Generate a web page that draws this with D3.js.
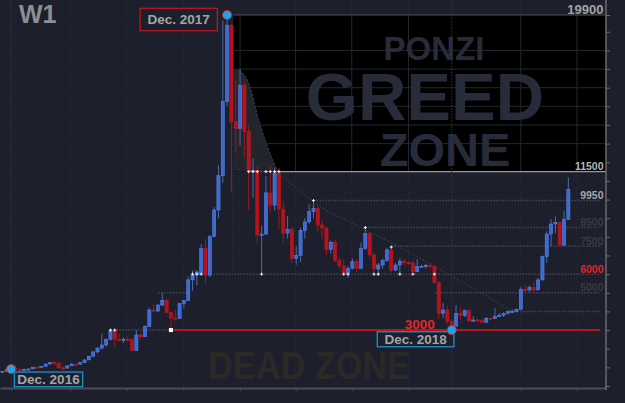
<!DOCTYPE html>
<html lang="en">
<head>
<meta charset="UTF-8" />
<title>W1 - Ponzi Greed Zone</title>
<script src="https://d3js.org/d3.v7.min.js"></script>
<style>
  html, body { margin: 0; padding: 0; background: #1d202c; }
  svg { display: block; }
  text { font-family: "Liberation Sans", Arial, sans-serif; }
</style>
</head>
<body>
<svg id="chart" width="625" height="403"></svg>
<script>
// weekly candles, Monday open, from 2016-12-12 to 2019-06-17
const firstWeek = "2016-12-12";
const lastWeek = "2019-06-17";

const open = [
  770, 785, 890, 960, 905, 830, 900, 915, 1010, 1000, 1050, 1180, 1260, 1230, 970, 960,
  1080, 1175, 1170, 1250, 1400, 1600, 1830, 2030, 2200, 2500, 2980, 2500, 2480, 2510, 2490, 1900,
  2740, 2640, 3200, 4080, 4020, 4340, 4600, 3950, 3650, 3620, 4420, 4580, 5690, 5960, 6050, 7390,
  5950, 8010, 9440, 11280, 15250, 19360, 14170, 13820, 16140, 13650, 11490, 11550, 8100, 8150, 10360, 9700,
  11430, 9490, 8200, 8400, 6850, 7000, 8350, 8800, 9350, 9530, 8640, 8470, 7330, 7710, 6720, 6440,
  6050, 6310, 6670, 6310, 7390, 8190, 7030, 6280, 6490, 6720, 7300, 6220, 6490, 6700, 6620, 6600,
  6130, 6400, 6420, 6470, 6400, 5540, 3900, 4080, 3450, 3200, 3900, 3770, 4040, 3500, 3540, 3520,
  3420, 3630, 3610, 3720, 3800, 3900, 3990, 4000, 4110, 5190, 5150, 5290, 5150, 5690, 6940, 8150,
  8690, 8760, 7560, 8940
];
const high = [
  790, 900, 1000, 1150, 915, 925, 925, 1030, 1060, 1060, 1200, 1290, 1330, 1250, 1060, 1110,
  1210, 1200, 1270, 1420, 1620, 1850, 2100, 2800, 2550, 3000, 2990, 2800, 2600, 2650, 2550, 3000,
  2800, 3250, 4200, 4430, 4400, 4980, 4700, 4000, 4100, 4450, 4600, 5850, 6200, 6200, 7600, 7880,
  8100, 9600, 11850, 19600, 19900, 19400, 16400, 17000, 16300, 14000, 12200, 11800, 8600, 11250, 11800, 11700,
  11700, 9900, 9100, 8500, 7500, 8500, 9000, 9750, 9950, 9700, 8900, 8550, 7800, 7850, 6900, 6800,
  6450, 6850, 6800, 7700, 8500, 8250, 7150, 6600, 6850, 7400, 7450, 6600, 6850, 6800, 6700, 6700,
  6800, 6500, 6550, 6600, 6500, 5600, 4450, 4300, 3600, 4340, 4220, 4100, 4100, 3750, 3650, 3600,
  3700, 3700, 4170, 3900, 3950, 4050, 4100, 4150, 5300, 5450, 5400, 5600, 5800, 7000, 8300, 8950,
  9100, 8800, 9400, 11190
];
const low = [
  760, 780, 880, 890, 760, 820, 880, 910, 950, 990, 1040, 1170, 1100, 940, 900, 940,
  1075, 1150, 1160, 1240, 1390, 1570, 1750, 1950, 2100, 2450, 2100, 2450, 2300, 2450, 1850, 1880,
  2500, 2640, 3180, 3950, 3950, 4300, 3900, 2980, 3500, 3600, 4150, 4550, 5100, 5400, 6000, 5500,
  5850, 8000, 9000, 10900, 15000, 10400, 12500, 12900, 12300, 9450, 10100, 7600, 6000, 8100, 9300, 9400,
  8400, 7700, 7900, 6600, 6500, 6650, 7900, 8700, 9000, 8300, 7900, 7050, 7100, 6650, 6250, 5950,
  5800, 6250, 6100, 6300, 7300, 6900, 6000, 5900, 6300, 6650, 6100, 6150, 6000, 6450, 6500, 6000,
  6100, 6350, 6300, 6300, 5500, 3600, 3650, 3300, 3120, 3200, 3550, 3700, 3450, 3500, 3450, 3380,
  3400, 3550, 3600, 3700, 3700, 3850, 3950, 3950, 4100, 4950, 5050, 5000, 5150, 5650, 6600, 7500,
  8200, 7450, 7500, 8900
];
const close = [
  785, 890, 960, 905, 830, 900, 915, 1010, 1000, 1050, 1180, 1260, 1230, 970, 960, 1080,
  1175, 1170, 1250, 1400, 1600, 1830, 2030, 2200, 2500, 2980, 2500, 2480, 2510, 2490, 1900, 2740,
  2640, 3200, 4080, 4020, 4340, 4600, 3950, 3650, 3620, 4420, 4580, 5690, 5960, 6120, 7390, 5950,
  8010, 9440, 11280, 15250, 19360, 14170, 13820, 16140, 13650, 11490, 11550, 8100, 8150, 10360, 9700, 11430,
  9490, 8200, 8400, 6850, 7000, 8350, 8800, 9350, 9530, 8640, 8470, 7330, 7710, 6720, 6440, 6050,
  6310, 6670, 6310, 7390, 8190, 7030, 6280, 6490, 6720, 7300, 6220, 6490, 6700, 6620, 6600, 6130,
  6400, 6420, 6470, 6400, 5540, 3900, 4080, 3450, 3200, 3900, 3770, 4040, 3500, 3540, 3520, 3420,
  3630, 3610, 3720, 3800, 3900, 3990, 4000, 4110, 5190, 5150, 5290, 5150, 5690, 6940, 8150, 8690,
  8760, 7560, 8940, 10550
];

// price levels drawn as dotted lines
const levelPrices = [9950, 8500, 7500, 6000, 5000, 4000];
const levelStarts = ["2018-04-30", "2018-07-23", "2018-09-03", "2017-10-16", "2018-11-12", "2019-03-11"];
const levelEnd = "2019-08-07";
const shortLevel = { price: 5000, from: "2017-08-21", to: "2017-10-09" };
const floorPrice = 3000;
const floorDotted = ["2017-06-05", "2017-09-11"];

// right side labels
const axisLabels = ["19900", "11500", "9950", "8500", "7500", "6000", "5000"];
const axisLabelValues = [19900, 11500, 9950, 8500, 7500, 6000, 5000];

// greed zone
const zoneStart = "2017-12-21";
const zoneTop = 19900;
const zoneBottom = 11500;
const zoneGridPrices = [13000, 14000, 15000, 16000, 17000, 18000];
const zoneLineDotted = ["2018-01-15", "2018-03-05"];

// decay curve from the top
const decayDates = ["2017-12-31", "2018-01-19", "2018-01-27", "2018-02-07", "2018-02-21", "2018-03-03",
  "2018-03-30", "2018-04-28", "2018-07-14", "2018-09-25", "2018-11-28", "2019-01-24", "2019-03-17"];
const decayPrices = [16950, 15880, 14800, 13570, 12300, 11530, 10730, 9920, 8530, 7300, 6120, 5040, 4020];

// quarter grid lines
const gridDates = ["2017-04-01", "2017-07-01", "2017-10-01", "2018-01-01", "2018-04-01", "2018-07-01",
  "2018-10-01", "2019-04-01", "2019-07-01"];

// highlighted points
const dotDates = ["2016-12-26", "2017-12-11", "2018-12-10"];
const dotPrices = [910, 19900, 3000];
const dotLabels = ["Dec. 2016", "Dec. 2017", "Dec. 2018"];

// small white swing markers
const markerDates = ["2018-01-15", "2018-01-22", "2018-01-29", "2018-02-12", "2018-02-19", "2018-02-26", "2018-03-05",
  "2017-10-16", "2017-10-23", "2017-10-30", "2018-02-05", "2018-06-18", "2018-06-25", "2018-08-06", "2018-08-13",
  "2018-09-17", "2018-10-08", "2018-11-12", "2017-06-05", "2017-06-12", "2018-04-30", "2018-07-23", "2018-09-03"];
const markerPrices = [11500, 11500, 11500, 11500, 11500, 11500, 11500,
  6000, 6000, 6000, 6000, 6000, 6000, 6000, 6000,
  6000, 6000, 6000, 3000, 3000, 9950, 8500, 7450];

const parse = d3.utcParse("%Y-%m-%d");
const weeks = d3.utcMonday.range(parse(firstWeek), d3.utcDay.offset(parse(lastWeek), 1));
const candles = weeks.map((d, i) => ({ date: d, o: open[i], h: high[i], l: low[i], c: close[i] }));

const svg = d3.select("#chart");
const width = 625, height = 403;
const plotRight = 606, axisY = 388;

const x = d3.scaleUtc().domain([parse("2016-12-08"), parse("2019-08-17")]).range([0, plotRight]);
const y = d3.scaleLinear().domain([0, 19900]).range([386, 15]);

svg.append("rect").attr("width", width).attr("height", height).attr("fill", "#1d202c");

// background quarter grid
svg.append("g").selectAll("line")
  .data(gridDates.map(parse))
  .join("line")
  .attr("x1", d => x(d)).attr("x2", d => x(d))
  .attr("y1", 0).attr("y2", axisY)
  .attr("stroke", "#2c2f3b").attr("stroke-dasharray", "1,2");

// greed zone
const zx = x(parse(zoneStart));
svg.append("rect")
  .attr("x", zx).attr("y", y(zoneTop))
  .attr("width", plotRight - zx).attr("height", y(zoneBottom) - y(zoneTop))
  .attr("fill", "#000");

svg.append("g").selectAll("line")
  .data(zoneGridPrices)
  .join("line")
  .attr("x1", zx).attr("x2", plotRight)
  .attr("y1", d => y(d)).attr("y2", d => y(d))
  .attr("stroke", "#25272f");

svg.append("g").selectAll("line")
  .data(gridDates.map(parse).filter(d => x(d) > zx))
  .join("line")
  .attr("x1", d => x(d)).attr("x2", d => x(d))
  .attr("y1", y(zoneTop)).attr("y2", y(zoneBottom))
  .attr("stroke", "#25272f");

const decay = decayDates.map((d, i) => [x(parse(d)), y(decayPrices[i])]);
const curve = d3.line().curve(d3.curveMonotoneX);

// shaded area under the decay curve inside the zone
const shade = [[zx, decay[0][1]]].concat(decay.slice(0, 6)).concat([[decay[5][0], y(zoneBottom)], [zx, y(zoneBottom)]]);
svg.append("path")
  .attr("d", d3.line()(shade.slice(0, 1)) ? "M" + zx + "," + decay[0][1] + curve(decay.slice(0, 6)).replace(/^M/, "L") + "L" + decay[5][0] + "," + y(zoneBottom) + "L" + zx + "," + y(zoneBottom) + "Z" : "")
  .attr("fill", "#22252e");

// zone texts
const zoneText = svg.append("g").attr("fill", "#282b39").attr("font-weight", "bold").attr("text-anchor", "middle");
zoneText.append("text").attr("x", 434).attr("y", 60).attr("font-size", 33).text("PONZI");
zoneText.append("text").attr("x", 425).attr("y", 120).attr("font-size", 67).text("GREED");
zoneText.append("text").attr("x", 445).attr("y", 166).attr("font-size", 47).text("ZONE");

svg.append("text")
  .attr("x", 309).attr("y", 379)
  .attr("text-anchor", "middle")
  .attr("font-size", 38).attr("font-weight", "bold")
  .attr("textLength", 202).attr("lengthAdjust", "spacingAndGlyphs")
  .attr("fill", "#2a2926")
  .text("DEAD ZONE");

// decay dotted line
svg.append("path")
  .attr("d", curve(decay))
  .attr("fill", "none")
  .attr("stroke", "#3d404b").attr("stroke-width", 1)
  .attr("stroke-dasharray", "2,2");

// left edge of zone continuing down
svg.append("line")
  .attr("x1", zx).attr("x2", zx)
  .attr("y1", y(decayPrices[0])).attr("y2", y(6000))
  .attr("stroke", "#363944").attr("stroke-dasharray", "1,2");

// dotted price levels
const levelG = svg.append("g").attr("stroke", "#454852").attr("stroke-width", 1.5).attr("stroke-dasharray", "1.5,1.5");
levelG.selectAll("line")
  .data(levelPrices.map((p, i) => ({ p, from: parse(levelStarts[i]), to: parse(levelEnd) }))
    .concat([{ p: shortLevel.price, from: parse(shortLevel.from), to: parse(shortLevel.to) },
             { p: floorPrice, from: parse(floorDotted[0]), to: parse(floorDotted[1]) }]))
  .join("line")
  .attr("x1", d => x(d.from)).attr("x2", d => x(d.to))
  .attr("y1", d => y(d.p)).attr("y2", d => y(d.p));

// zone borders
svg.append("line")
  .attr("x1", zx).attr("x2", plotRight)
  .attr("y1", y(zoneTop)).attr("y2", y(zoneTop))
  .attr("stroke", "#4e515b");
svg.append("line")
  .attr("x1", x(parse(zoneLineDotted[0]))).attr("x2", x(parse(zoneLineDotted[1])))
  .attr("y1", y(zoneBottom)).attr("y2", y(zoneBottom))
  .attr("stroke", "#77797f").attr("stroke-dasharray", "1.5,1.5");
svg.append("line")
  .attr("x1", x(parse(zoneLineDotted[1]))).attr("x2", plotRight)
  .attr("y1", y(zoneBottom)).attr("y2", y(zoneBottom))
  .attr("stroke", "#9a9a9e").attr("stroke-width", 1.2);

// 3000 floor
svg.append("line")
  .attr("x1", x(parse(floorDotted[1]))).attr("x2", x(parse(levelEnd)))
  .attr("y1", y(floorPrice)).attr("y2", y(floorPrice))
  .attr("stroke", "#e3151d").attr("stroke-width", 1.5);

// vertical lines through the first and last dot
svg.append("g").selectAll("line")
  .data([dotDates[0], dotDates[2]].map(parse))
  .join("line")
  .attr("x1", d => x(d)).attr("x2", d => x(d))
  .attr("y1", 0).attr("y2", axisY)
  .attr("stroke", "#33363f").attr("stroke-dasharray", "1.5,1.5");

// candles
const up = d => d.c >= d.o;
const cg = svg.append("g");
cg.selectAll("line")
  .data(candles)
  .join("line")
  .attr("x1", d => x(d.date)).attr("x2", d => x(d.date))
  .attr("y1", d => y(d.h)).attr("y2", d => y(d.l))
  .attr("stroke", d => up(d) ? "#4d6aa6" : "#a5141c")
  .attr("stroke-width", 1);
cg.selectAll("rect")
  .data(candles)
  .join("rect")
  .attr("x", d => x(d.date) - 1.6)
  .attr("width", 3.2)
  .attr("y", d => y(Math.max(d.o, d.c)))
  .attr("height", d => Math.max(1.2, Math.abs(y(d.o) - y(d.c))))
  .attr("fill", d => up(d) ? "#3b6ad6" : "#b5121b")
  .attr("stroke", d => up(d) ? "#5a86ea" : "#c8161f")
  .attr("stroke-width", 0.5);

// swing markers
svg.append("g").selectAll("path")
  .data(markerDates.map((d, i) => [x(parse(d)), y(markerPrices[i])]))
  .join("path")
  .attr("d", d => `M${d[0] - 1.5},${d[1]}H${d[0] + 1.5}M${d[0]},${d[1] - 1.5}V${d[1] + 1.5}`)
  .attr("stroke", "#f2f2f2").attr("stroke-width", 1);
svg.append("rect")
  .attr("x", x(parse(floorDotted[1])) - 2).attr("y", y(floorPrice) - 2)
  .attr("width", 4).attr("height", 4).attr("fill", "#fff");

// axes
const xAxis = svg.append("g")
  .attr("transform", `translate(0,${axisY})`)
  .call(d3.axisBottom(x).tickValues(gridDates.map(parse).concat([parse(dotDates[0])])).tickFormat("").tickSize(3).tickSizeOuter(0));
xAxis.select(".domain").attr("stroke", "#4b4e58").attr("stroke-width", 2);
xAxis.selectAll(".tick line").attr("stroke", "#4b4e58");

const yAxis = svg.append("g")
  .attr("transform", `translate(${plotRight},0)`)
  .call(d3.axisRight(y).tickValues(d3.range(0, 20000, 1000).concat([19900])).tickFormat("").tickSize(4).tickSizeOuter(0));
yAxis.select(".domain").attr("stroke", "#676a73").attr("stroke-width", 1.5).attr("d", `M0,0V${axisY + 2}`);
yAxis.selectAll(".tick line").attr("stroke", "#676a73");

// right labels
const labelStyle = {
  "19900": { fill: "#a2a2a4", size: 13 },
  "11500": { fill: "#b6b6b8", size: 10.5 },
  "9950": { fill: "#a6a6a8", size: 10.5 },
  "8500": { fill: "#3b3b3d", size: 10.5 },
  "7500": { fill: "#3b3b3d", size: 10.5 },
  "6000": { fill: "#e3232b", size: 10.5 },
  "5000": { fill: "#39393b", size: 10.5 }
};
svg.append("g").selectAll("text")
  .data(axisLabels.map((t, i) => ({ t, v: axisLabelValues[i] })))
  .join("text")
  .attr("x", 603.5)
  .attr("y", d => y(d.v) - 1.5)
  .attr("text-anchor", "end")
  .attr("font-weight", "bold")
  .attr("font-size", d => labelStyle[d.t].size)
  .attr("fill", d => labelStyle[d.t].fill)
  .text(d => d.t);

svg.append("text")
  .attr("x", x(parse(dotDates[2])) - 17).attr("y", y(floorPrice) - 1)
  .attr("text-anchor", "end")
  .attr("font-size", 13.5).attr("font-weight", "bold")
  .attr("fill", "#e8232b")
  .text(String(floorPrice));

// dot labels with boxes
const boxes = [
  { dx: 3.2, dy: 3, w: 68.4, h: 14.7, stroke: "#1f9ad8" },
  { dx: -87, dy: -6.7, w: 77.3, h: 22.4, stroke: "#c8161e" },
  { dx: -74.5, dy: 1.7, w: 76.7, h: 15, stroke: "#1f9ad8" }
];
const dots = dotDates.map((d, i) => ({ cx: x(parse(d)), cy: y(dotPrices[i]), label: dotLabels[i], box: boxes[i] }));
const lg = svg.append("g");
lg.selectAll("rect")
  .data(dots)
  .join("rect")
  .attr("x", d => d.cx + d.box.dx).attr("y", d => d.cy + d.box.dy)
  .attr("width", d => d.box.w).attr("height", d => d.box.h)
  .attr("fill", "#1d202c").attr("stroke", d => d.box.stroke).attr("stroke-width", 1.2);
lg.selectAll("text")
  .data(dots)
  .join("text")
  .attr("x", d => d.cx + d.box.dx + d.box.w / 2)
  .attr("y", d => d.cy + d.box.dy + d.box.h / 2 + 4.8)
  .attr("text-anchor", "middle")
  .attr("font-size", 13.5).attr("font-weight", "bold")
  .attr("fill", "#a4a4a6")
  .text(d => d.label);
lg.selectAll("circle")
  .data(dots)
  .join("circle")
  .attr("cx", d => d.cx).attr("cy", d => d.cy).attr("r", 4.6)
  .attr("fill", "#1ba6ea").attr("stroke", "#d0202a").attr("stroke-width", 1);

svg.append("text")
  .attr("x", 19).attr("y", 23)
  .attr("font-size", 25).attr("font-weight", "bold")
  .attr("fill", "#8e8e90")
  .text("W1");
</script>
</body>
</html>
